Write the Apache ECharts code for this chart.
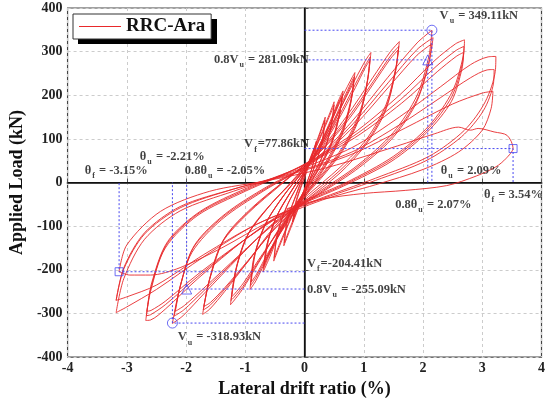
<!DOCTYPE html>
<html>
<head>
<meta charset="utf-8">
<script src="https://cdn.jsdelivr.net/npm/echarts@6/dist/echarts.min.js"></script>
<style>
  html, body { margin: 0; padding: 0; background: #fff; }
  #chart { width: 548px; height: 403px; }
</style>
</head>
<body>
<div id="chart"></div>
<script>
// hysteresis cycles, [drift %, load kN]
const loopA1 = [[-0.2,-90],[-0.15,-45],[0.0,15],[0.12,60],[0.2,95],[0.15,45],[0.0,-15],[-0.12,-55],[-0.2,-90]];
const loopA2 = [[-0.19,-84],[-0.13,-40],[0.02,18],[0.12,55],[0.19,88],[0.14,40],[-0.01,-18],[-0.12,-52],[-0.19,-84]];
const loopB1 = [[-0.35,-145],[-0.3,-90],[-0.15,-30],[0.05,40],[0.22,100],[0.35,150],[0.3,95],[0.15,30],[-0.05,-40],[-0.22,-100],[-0.35,-145]];
const loopB2 = [[-0.34,-138],[-0.28,-82],[-0.13,-25],[0.06,42],[0.22,96],[0.34,143],[0.29,88],[0.14,25],[-0.06,-42],[-0.22,-95],[-0.34,-138]];
const loopC1 = [[-0.52,-180],[-0.46,-120],[-0.3,-55],[-0.05,10],[0.2,85],[0.4,150],[0.5,185],[0.45,130],[0.3,60],[0.05,-5],[-0.22,-80],[-0.42,-145],[-0.52,-180]];
const loopC2 = [[-0.51,-172],[-0.45,-112],[-0.28,-48],[-0.03,14],[0.2,82],[0.4,145],[0.5,178],[0.44,122],[0.28,52],[0.03,-10],[-0.22,-78],[-0.42,-140],[-0.51,-172]];
const loopD1 = [[-0.7,-205],[-0.64,-145],[-0.48,-80],[-0.2,-15],[0.12,50],[0.4,130],[0.58,190],[0.65,210],[0.6,165],[0.46,95],[0.2,25],[-0.1,-40],[-0.4,-110],[-0.6,-175],[-0.7,-205]];
const loopD2 = [[-0.69,-196],[-0.62,-135],[-0.45,-72],[-0.18,-10],[0.13,52],[0.4,126],[0.57,182],[0.64,202],[0.59,155],[0.45,88],[0.19,20],[-0.1,-42],[-0.4,-108],[-0.6,-168],[-0.69,-196]];
const loopD3 = [[-0.68,-190],[-0.6,-128],[-0.43,-66],[-0.16,-6],[0.14,54],[0.4,122],[0.56,176],[0.63,196],[0.58,148],[0.44,82],[0.18,16],[-0.1,-44],[-0.4,-106],[-0.6,-162],[-0.68,-190]];
const loopE1 = [[-0.92,-245],[-0.86,-175],[-0.68,-100],[-0.35,-30],[0.05,40],[0.4,125],[0.65,200],[0.8,240],[0.85,252],[0.8,200],[0.65,125],[0.35,45],[0.0,-25],[-0.35,-100],[-0.62,-170],[-0.82,-225],[-0.92,-245]];
const loopE2 = [[-0.91,-236],[-0.84,-165],[-0.65,-92],[-0.32,-24],[0.07,42],[0.42,122],[0.66,192],[0.79,230],[0.84,243],[0.79,190],[0.64,116],[0.34,38],[0.0,-30],[-0.35,-102],[-0.62,-166],[-0.82,-218],[-0.91,-236]];
const loopE3 = [[-0.9,-228],[-0.82,-156],[-0.62,-85],[-0.3,-20],[0.08,44],[0.43,118],[0.66,186],[0.78,222],[0.83,236],[0.78,182],[0.63,108],[0.33,32],[0.0,-34],[-0.35,-104],[-0.62,-162],[-0.81,-210],[-0.9,-228]];
const loopF1 = [[-1.25,-280],[-1.17,-205],[-0.98,-125],[-0.6,-55],[-0.2,5],[0.2,70],[0.55,155],[0.85,235],[1.03,280],[1.12,298],[1.07,240],[0.93,160],[0.66,85],[0.3,20],[-0.1,-40],[-0.45,-110],[-0.78,-185],[-1.05,-245],[-1.2,-272],[-1.25,-280]];
const loopF2 = [[-1.24,-270],[-1.15,-195],[-0.95,-118],[-0.57,-50],[-0.17,8],[0.22,70],[0.57,150],[0.86,226],[1.03,270],[1.11,288],[1.06,230],[0.92,150],[0.65,78],[0.29,15],[-0.1,-44],[-0.45,-112],[-0.78,-182],[-1.04,-238],[-1.19,-263],[-1.24,-270]];
const loopF3 = [[-1.23,-262],[-1.13,-186],[-0.92,-110],[-0.54,-45],[-0.14,10],[0.24,70],[0.58,146],[0.86,218],[1.02,262],[1.1,280],[1.05,222],[0.91,142],[0.64,72],[0.28,10],[-0.1,-48],[-0.45,-114],[-0.78,-178],[-1.03,-230],[-1.18,-255],[-1.23,-262]];
const loopG1 = [[-1.72,-302],[-1.62,-230],[-1.4,-140],[-0.95,-70],[-0.4,-5],[0.2,65],[0.7,150],[1.15,240],[1.45,300],[1.6,323],[1.55,270],[1.38,180],[1.05,100],[0.6,35],[0.0,-35],[-0.5,-100],[-0.95,-180],[-1.35,-250],[-1.6,-290],[-1.72,-302]];
const loopG2 = [[-1.71,-292],[-1.6,-220],[-1.37,-132],[-0.92,-64],[-0.37,0],[0.22,66],[0.72,146],[1.16,232],[1.45,290],[1.59,312],[1.54,258],[1.37,170],[1.04,92],[0.6,28],[0.0,-40],[-0.5,-104],[-0.95,-180],[-1.35,-245],[-1.6,-282],[-1.71,-292]];
const loopG3 = [[-1.7,-284],[-1.58,-212],[-1.34,-125],[-0.89,-58],[-0.34,4],[0.24,67],[0.73,142],[1.16,226],[1.44,282],[1.58,304],[1.53,250],[1.36,162],[1.03,86],[0.6,22],[0.0,-44],[-0.5,-106],[-0.95,-178],[-1.34,-240],[-1.59,-275],[-1.7,-284]];
const loopH1 = [[-2.23,-323],[-2.12,-250],[-1.9,-160],[-1.4,-85],[-0.7,-20],[0.15,50],[0.8,140],[1.4,240],[1.9,320],[2.15,349],[2.1,290],[1.9,200],[1.5,115],[0.9,40],[0.2,-25],[-0.5,-90],[-1.1,-170],[-1.7,-255],[-2.05,-305],[-2.23,-323]];
const loopH2 = [[-2.2,-306],[-2.1,-238],[-1.88,-150],[-1.37,-78],[-0.67,-15],[0.17,50],[0.82,135],[1.42,230],[1.9,305],[2.17,332],[2.1,275],[1.89,188],[1.48,106],[0.88,34],[0.18,-30],[-0.5,-92],[-1.1,-168],[-1.7,-248],[-2.04,-292],[-2.2,-306]];
const loopH3 = [[-2.18,-295],[-2.08,-228],[-1.85,-142],[-1.34,-72],[-0.64,-10],[0.19,50],[0.84,130],[1.44,222],[1.9,292],[2.15,318],[2.08,262],[1.87,178],[1.46,98],[0.86,28],[0.16,-34],[-0.5,-94],[-1.1,-166],[-1.7,-242],[-2.03,-282],[-2.18,-295]];
const loopI1 = [[-2.68,-316],[-2.6,-250],[-2.35,-150],[-1.8,-75],[-1.0,-20],[-0.1,35],[0.8,110],[1.6,200],[2.2,280],[2.55,318],[2.7,327],[2.68,290],[2.5,210],[2.1,130],[1.5,60],[0.7,0],[-0.2,-55],[-1.0,-130],[-1.8,-220],[-2.35,-290],[-2.6,-315],[-2.68,-316]];
const loopI2 = [[-2.67,-305],[-2.59,-240],[-2.33,-142],[-1.78,-70],[-0.98,-16],[-0.08,36],[0.82,106],[1.62,190],[2.22,266],[2.56,303],[2.69,312],[2.67,276],[2.49,198],[2.08,122],[1.48,54],[0.68,-4],[-0.2,-58],[-1.0,-130],[-1.8,-215],[-2.35,-280],[-2.6,-303],[-2.67,-305]];
const loopI3 = [[-2.66,-295],[-2.58,-230],[-2.31,-135],[-1.76,-66],[-0.96,-12],[-0.06,36],[0.84,102],[1.64,182],[2.24,254],[2.56,289],[2.68,298],[2.66,262],[2.48,186],[2.06,114],[1.46,48],[0.66,-8],[-0.2,-60],[-1.0,-130],[-1.8,-210],[-2.35,-272],[-2.59,-293],[-2.66,-295]];
const loopJ1 = [[-3.18,-298],[-3.05,-220],[-2.7,-130],[-2.1,-65],[-1.2,-20],[-0.2,25],[0.8,80],[1.6,150],[2.3,220],[2.8,270],[3.1,288],[3.23,289],[3.22,255],[3.05,185],[2.7,120],[2.1,60],[1.2,10],[0.2,-40],[-0.8,-95],[-1.7,-170],[-2.5,-245],[-3.0,-285],[-3.18,-298]];
const loopJ2 = [[-3.18,-270],[-3.05,-198],[-2.7,-118],[-2.1,-58],[-1.2,-15],[-0.2,22],[0.8,70],[1.6,132],[2.3,195],[2.8,240],[3.08,258],[3.2,259],[3.19,228],[3.02,165],[2.65,105],[2.05,50],[1.2,5],[0.2,-42],[-0.8,-95],[-1.7,-165],[-2.5,-235],[-3.0,-262],[-3.18,-270]];
const loopJ3 = [[-3.18,-270],[-3.05,-195],[-2.7,-115],[-2.1,-55],[-1.2,-15],[-0.2,20],[0.8,65],[1.7,125],[2.5,180],[3.0,205],[3.18,209],[3.15,170],[3.0,120],[2.6,70],[2.0,30],[1.2,-5],[0.3,-40],[-0.6,-90],[-1.4,-150],[-2.1,-195],[-2.6,-212],[-2.95,-212],[-3.13,-204]];
const loopK = [[-3.13,-204],[-3.0,-143],[-2.43,-66],[-1.6,-20],[-0.6,5],[0.4,35],[1.57,84],[2.2,112],[2.6,127],[2.8,120],[2.93,124],[3.2,116],[3.42,108],[3.52,79],[3.4,55],[3.23,36],[2.9,15],[2.4,-7],[1.7,-18],[1.0,-25],[0.3,-38],[-0.3,-60]];

const loops = [loopA1, loopA2, loopB1, loopB2, loopC1, loopC2, loopD1, loopD2, loopD3,
  loopE1, loopE2, loopE3, loopF1, loopF2, loopF3, loopG1, loopG2, loopG3,
  loopH1, loopH2, loopH3, loopI1, loopI2, loopI3, loopJ1, loopJ2, loopJ3, loopK];

// characteristic points (as marked in the figure)
const peakPos = [2.15, 349.11];
const yieldPos = [2.08, 281.09];
const failPos = [3.52, 77.86];
const peakNeg = [-2.23, -322];
const yieldNeg = [-1.99, -244];
const failNeg = [-3.13, -204.41];

const xTicks = [-4, 4, 1];
const yTicks = [-400, 400, 100];

const RED = '#e8292b';
const BLUE = '#4848f0';
const SERIF = '"Liberation Serif", "Times New Roman", serif';

// annotation texts, anchored at [drift, load]
const notes = [
  { t: '{a|V}{s|u}{a| = 349.11kN}', at: [2.28, 383] },
  { t: '{a|0.8V}{s|u}{a| = 281.09kN}', at: [-1.53, 282] },
  { t: '{a|V}{s|f}{a|=77.86kN}', at: [-1.02, 88] },
  { t: '{a|θ}{s|u}{a| = -2.21%}', at: [-2.78, 60] },
  { t: '{a|θ}{s|f}{a| = -3.15%}', at: [-3.71, 27] },
  { t: '{a|0.8θ}{s|u}{a| = -2.05%}', at: [-2.02, 27] },
  { t: '{a|θ}{s|u}{a| = 2.09%}', at: [2.3, 27] },
  { t: '{a|θ}{s|f}{a| = 3.54%}', at: [3.03, -28] },
  { t: '{a|0.8θ}{s|u}{a| = 2.07%}', at: [1.53, -50] },
  { t: '{a|V}{s|f}{a|=-204.41kN}', at: [0.04, -186] },
  { t: '{a|0.8V}{s|u}{a| = -255.09kN}', at: [0.04, -245] },
  { t: '{a|V}{s|u}{a| = -318.93kN}', at: [-2.14, -354] }
];

const chart = echarts.init(document.getElementById('chart'));

const loopSeries = loops.map(d => ({
  name: 'RRC-Ara',
  type: 'line',
  data: d,
  smooth: 0.3,
  symbol: 'none',
  silent: true,
  lineStyle: { color: RED, width: 0.9 },
  itemStyle: { color: RED },
  z: 3
}));

const guide = (pts) => ({
  type: 'line',
  data: pts,
  symbol: 'none',
  silent: true,
  lineStyle: { color: BLUE, width: 1, type: [2, 2] },
  z: 4
});

const guideSeries = [
  guide([[0, peakPos[1]], peakPos, [peakPos[0], 0]]),
  guide([[0, yieldPos[1]], yieldPos, [yieldPos[0], 0]]),
  guide([[0, failPos[1]], failPos, [failPos[0], 0]]),
  guide([[0, peakNeg[1]], peakNeg, [peakNeg[0], 0]]),
  guide([[0, yieldNeg[1]], yieldNeg, [yieldNeg[0], 0]]),
  guide([[0, failNeg[1]], failNeg, [failNeg[0], 0]])
];

const marker = (sym, pts, size) => ({
  type: 'scatter',
  data: pts,
  symbol: sym,
  symbolSize: size,
  silent: true,
  itemStyle: { color: 'rgba(255,255,255,0)', borderColor: BLUE, borderWidth: 1 },
  z: 6
});

const zeroLines = {
  type: 'line',
  data: [[xTicks[0], 0], [xTicks[1], 0], null, [0, yTicks[0]], [0, yTicks[1]]],
  symbol: 'none',
  silent: true,
  connectNulls: false,
  lineStyle: { color: '#111', width: 1.3 },
  z: 2
};

const noteSeries = {
  type: 'scatter',
  symbolSize: 0,
  silent: true,
  z: 7,
  data: notes.map(n => ({
    value: n.at,
    label: { show: true, formatter: n.t }
  })),
  label: {
    position: 'right',
    distance: 0,
    rich: {
      a: { fontFamily: SERIF, fontWeight: 'bold', fontSize: 12.5, color: '#111' },
      s: { fontFamily: SERIF, fontWeight: 'bold', fontSize: 8, color: '#111', padding: [11, 1, 0, 1] }
    }
  }
};

chart.setOption({
  animation: false,
  backgroundColor: '#fff',
  grid: {
    left: 66, right: 3, top: 8, bottom: 43,
    show: true, borderColor: '#444', borderWidth: 1.2, backgroundColor: '#fff'
  },
  // solid black drop shadow behind the legend box
  graphic: [{
    type: 'rect',
    left: 78, top: 19, z: 5,
    shape: { width: 139, height: 25 },
    style: { fill: '#000' },
    silent: true
  }],
  legend: {
    data: ['RRC-Ara'],
    left: 73, top: 14,
    z: 10,
    icon: 'rect',
    itemWidth: 42, itemHeight: 1.2,
    itemGap: 4,
    padding: [3, 6, 3, 6],
    backgroundColor: '#fff',
    borderColor: '#333', borderWidth: 1,
    textStyle: { fontFamily: SERIF, fontWeight: 'bold', fontSize: 19, color: '#111' }
  },
  xAxis: {
    type: 'value',
    min: xTicks[0], max: xTicks[1], interval: xTicks[2],
    name: 'Lateral drift ratio (%)',
    nameLocation: 'middle', nameGap: 21,
    nameTextStyle: { fontFamily: SERIF, fontWeight: 'bold', fontSize: 18, color: '#111' },
    axisLine: { lineStyle: { color: '#555', width: 2 } },
    axisTick: { inside: true, length: 4, lineStyle: { color: '#555' } },
    axisLabel: { fontFamily: SERIF, fontWeight: 'bold', fontSize: 14, color: '#222', margin: 4 },
    splitLine: { lineStyle: { color: '#ccc', type: [3, 3] } }
  },
  yAxis: {
    type: 'value',
    min: yTicks[0], max: yTicks[1], interval: yTicks[2],
    name: 'Applied Load (kN)',
    nameLocation: 'middle', nameGap: 31, nameRotate: 90,
    nameTextStyle: { fontFamily: SERIF, fontWeight: 'bold', fontSize: 18, color: '#111' },
    axisLine: { lineStyle: { color: '#555', width: 2 } },
    axisTick: { inside: true, length: 4, lineStyle: { color: '#555' } },
    axisLabel: { fontFamily: SERIF, fontWeight: 'bold', fontSize: 14, color: '#222', margin: 5 },
    splitLine: { lineStyle: { color: '#ccc', type: [3, 3] } }
  },
  series: [
    zeroLines,
    ...loopSeries,
    ...guideSeries,
    marker('circle', [peakPos, peakNeg], 10),
    marker('triangle', [yieldPos, yieldNeg], 10),
    marker('rect', [failPos, failNeg], 8),
    noteSeries
  ]
});
</script>
</body>
</html>
